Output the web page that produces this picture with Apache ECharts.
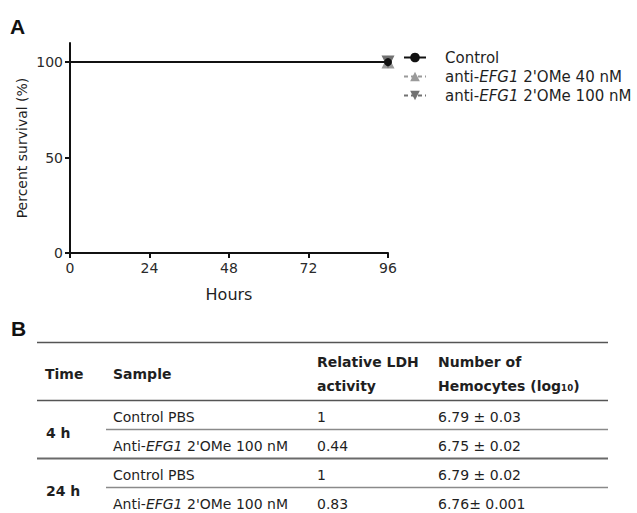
<!DOCTYPE html>
<html>
<head>
<meta charset="utf-8">
<script src="https://cdn.jsdelivr.net/npm/echarts@6/dist/echarts.min.js"></script>
<style>
  html, body { margin: 0; padding: 0; background: #fff; }
  #chart { width: 637px; height: 513px; }
</style>
</head>
<body>
<div id="chart"></div>
<script>
// panel A: survival over time
const hours = [0, 96]
const control = [100, 100]
const anti40 = [100, 100]
const anti100 = [100, 100]
const yTicks = [0, 50, 100]

// panel B: table
const tableHeader = ['Time', 'Sample', 'Relative LDH\nactivity', 'Number of\nHemocytes (log₁₀)']
const timeLabels = ['4 h', '24 h']
const samples = ['Control PBS', "Anti-EFG1 2'OMe 100 nM", 'Control PBS', "Anti-EFG1 2'OMe 100 nM"]
const ldh = ['1', '0.44', '1', '0.83']
const hemocytes = ['6.79 ± 0.03', '6.75 ± 0.02', '6.79 ± 0.02', '6.76± 0.001']

const FONT = 'DejaVu Sans'
const ink = '#1f1f1f'

function pairs(ys) {
  // first point hidden, marker only at the end
  return hours.map((h, i) => i === 0 ? { value: [h, ys[i]], symbol: 'none' } : [h, ys[i]])
}

function italicGene(s) {
  return s.replace('EFG1', '{i|EFG1}')
}

const chart = echarts.init(document.getElementById('chart'), null, { renderer: 'svg' })

// table graphics
const rowY = [417, 446, 475, 504]
const colX = [45, 113, 317, 438]
const lineRight = 608
let graphics = [
  { type: 'text', left: 10, top: 16, style: { text: 'A', font: 'bold 21px "Liberation Sans"', fill: '#111' } },
  { type: 'text', left: 11, top: 318, style: { text: 'B', font: 'bold 21px "Liberation Sans"', fill: '#111' } }
]
const hLines = [
  { y: 342.5, x: 37, w: 1.6, c: '#555' },
  { y: 400.5, x: 37, w: 1.6, c: '#555' },
  { y: 429.5, x: 106, w: 1.5, c: '#8a8a8a' },
  { y: 458.5, x: 37, w: 2, c: '#6a6a6a' },
  { y: 487.5, x: 106, w: 1.5, c: '#8a8a8a' }
]
hLines.forEach(l => {
  graphics.push({ type: 'line', shape: { x1: l.x, y1: l.y, x2: lineRight, y2: l.y }, style: { stroke: l.c, lineWidth: l.w } })
})
tableHeader.forEach((h, i) => {
  graphics.push({
    type: 'text', x: colX[i], y: 374,
    style: { text: h, font: 'bold 14px "' + FONT + '"', fill: ink, verticalAlign: 'middle', lineHeight: 24 }
  })
})
timeLabels.forEach((t, i) => {
  graphics.push({
    type: 'text', x: colX[0] + 1, y: (rowY[i * 2] + rowY[i * 2 + 1]) / 2 + 1,
    style: { text: t, font: 'bold 14px "' + FONT + '"', fill: ink, verticalAlign: 'middle' }
  })
})
samples.forEach((s, i) => {
  const base = { fill: ink, verticalAlign: 'middle', font: '14px "' + FONT + '"' }
  graphics.push({
    type: 'text', x: colX[1], y: rowY[i],
    style: Object.assign({}, base, {
      text: italicGene(s),
      rich: { i: { fontStyle: 'italic', fontFamily: FONT, fontSize: 14, fill: ink } }
    })
  })
  graphics.push({ type: 'text', x: colX[2], y: rowY[i], style: Object.assign({}, base, { text: ldh[i] }) })
  graphics.push({ type: 'text', x: colX[3], y: rowY[i], style: Object.assign({}, base, { text: hemocytes[i] }) })
})

const option = {
  backgroundColor: '#fff',
  animation: false,
  textStyle: { fontFamily: FONT, color: ink },
  grid: { left: 70, top: 43, right: 249, bottom: 260, containLabel: false },
  legend: {
    orient: 'vertical',
    left: 398,
    top: 45,
    itemWidth: 22,
    itemHeight: 12,
    itemGap: 4,
    data: ['Control', "anti-EFG1 2'OMe 40 nM", "anti-EFG1 2'OMe 100 nM"],
    formatter: name => italicGene(name),
    textStyle: {
      fontSize: 15, color: ink, fontFamily: FONT, padding: [0, 0, 0, 14],
      rich: { i: { fontStyle: 'italic', fontSize: 15, fontFamily: FONT, color: ink } }
    }
  },
  xAxis: {
    type: 'value',
    min: 0, max: 96, interval: 24,
    name: 'Hours',
    nameLocation: 'middle',
    nameGap: 33,
    nameTextStyle: { fontSize: 16, color: ink, fontFamily: FONT },
    axisLine: { lineStyle: { color: '#111', width: 2 } },
    axisTick: { show: true, length: 5, lineStyle: { color: '#111', width: 2 } },
    axisLabel: { fontSize: 14, color: '#2a2a2a', margin: 8, fontFamily: FONT },
    splitLine: { show: false }
  },
  yAxis: {
    type: 'value',
    min: 0, max: 110,
    name: 'Percent survival (%)',
    nameLocation: 'middle',
    nameGap: 41,
    nameTextStyle: { fontSize: 14, color: ink, fontFamily: FONT },
    axisLine: { show: true, lineStyle: { color: '#111', width: 2 } },
    axisTick: { show: true, length: 5, customValues: yTicks, lineStyle: { color: '#111', width: 2 } },
    axisLabel: { fontSize: 14, color: '#2a2a2a', margin: 7, customValues: yTicks, fontFamily: FONT },
    splitLine: { show: false }
  },
  series: [
    {
      name: "anti-EFG1 2'OMe 40 nM",
      type: 'line',
      data: pairs(anti40),
      symbol: 'triangle',
      symbolSize: 13,
      itemStyle: { color: '#9a9a9a' },
      lineStyle: { color: '#9a9a9a', width: 2, type: [4, 3] },
      z: 2
    },
    {
      name: "anti-EFG1 2'OMe 100 nM",
      type: 'line',
      data: pairs(anti100),
      symbol: 'triangle',
      symbolRotate: 180,
      symbolSize: 13,
      itemStyle: { color: '#727272' },
      lineStyle: { color: '#727272', width: 2, type: [4, 3] },
      z: 3
    },
    {
      name: 'Control',
      type: 'line',
      data: pairs(control),
      symbol: 'circle',
      symbolSize: 8,
      itemStyle: { color: '#111' },
      lineStyle: { color: '#111', width: 2 },
      z: 4
    }
  ],
  graphic: graphics
}

chart.setOption(option)
</script>
</body>
</html>
